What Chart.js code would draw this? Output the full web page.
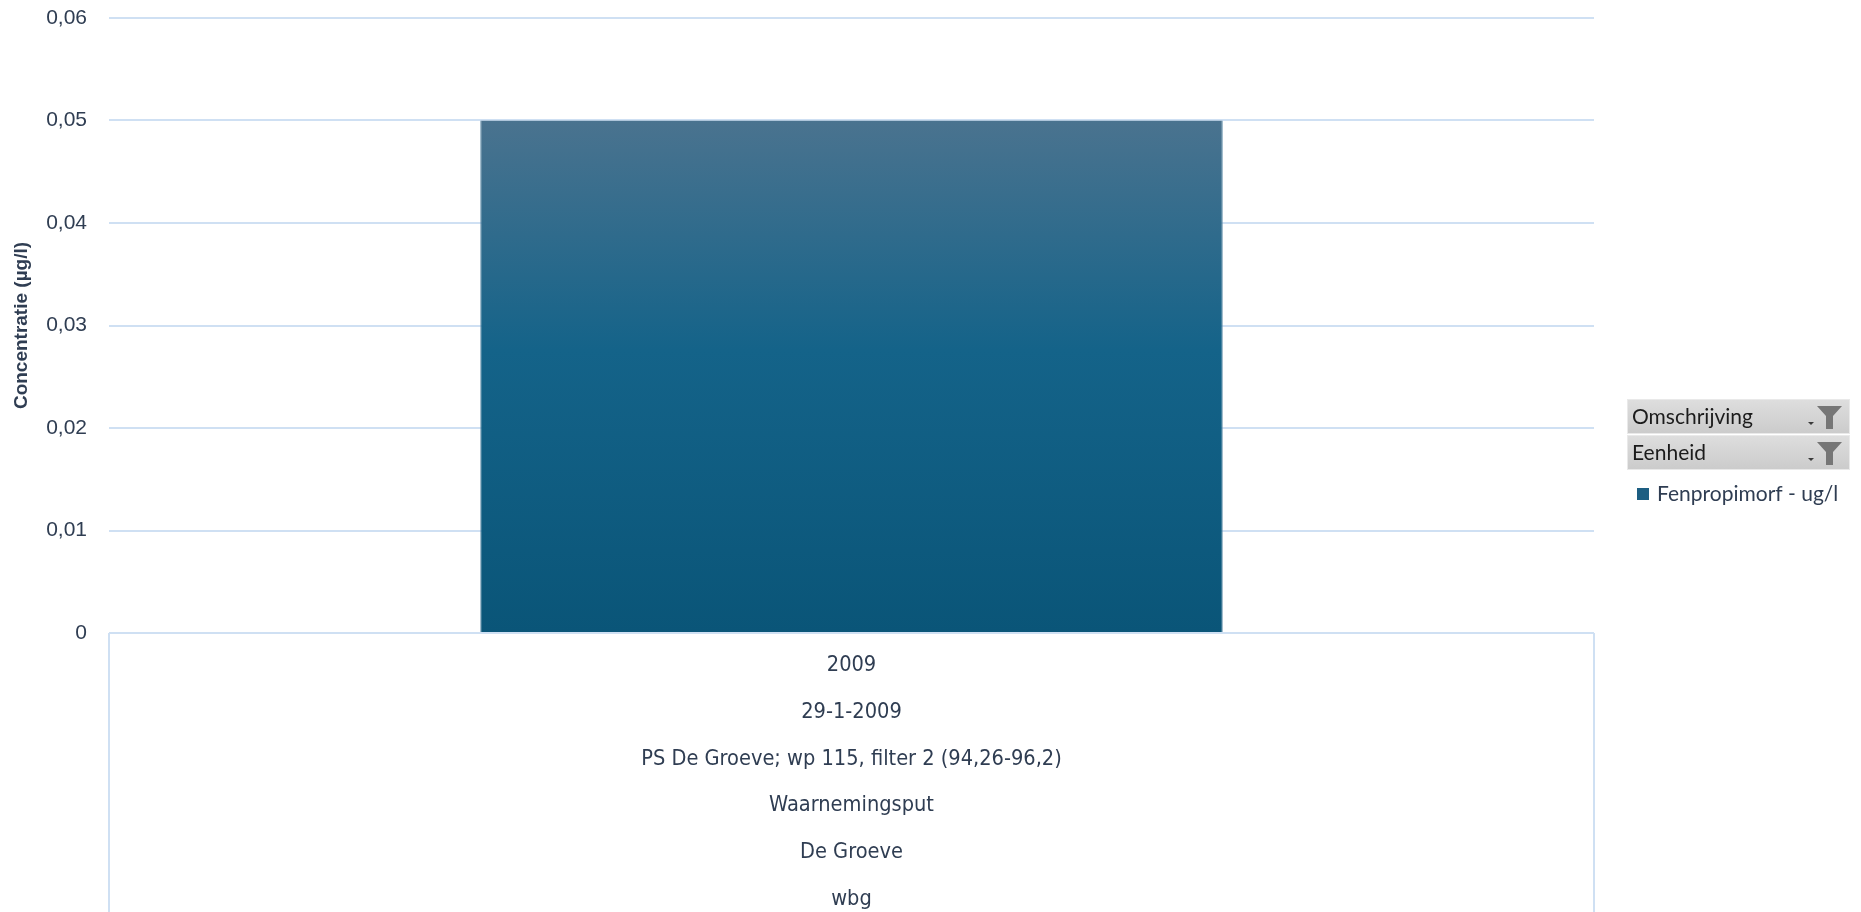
<!DOCTYPE html>
<html>
<head>
<meta charset="utf-8">
<script src="https://cdn.jsdelivr.net/npm/chart.js@4/dist/chart.umd.min.js"></script>
<style>
  html, body { margin: 0; padding: 0; background: #ffffff; }
  #wrap { position: relative; width: 1861px; height: 912px; }
</style>
</head>
<body>
<div id="wrap"><canvas id="c" width="1861" height="912"></canvas></div>
<script>
// ---- data ----
const categories = [
  ['2009', '29-1-2009', 'PS De Groeve; wp 115, filter 2 (94,26-96,2)', 'Waarnemingsput', 'De Groeve', 'wbg']
];
const seriesName = 'Fenpropimorf - ug/l';
const seriesValues = [0.05];
const yTickLabels = ['0', '0,01', '0,02', '0,03', '0,04', '0,05', '0,06'];
const yTitle = 'Concentratie (µg/l)';
const filterLabels = ['Omschrijving', 'Eenheid'];

const textColor = '#2f3d52';
const gridColor = '#cfe0f3';

function barGradient(ctx) {
  const chart = ctx.chart;
  const area = chart.chartArea;
  if (!area) return '#125f85';
  const ys = chart.scales.y;
  const top = ys.getPixelForValue(seriesValues[0]);
  const bottom = ys.getPixelForValue(0);
  const g = chart.ctx.createLinearGradient(0, top, 0, bottom);
  g.addColorStop(0, '#4a738f');
  g.addColorStop(0.45, '#146389');
  g.addColorStop(1, '#0a5578');
  return g;
}

const sidePanel = {
  id: 'sidePanel',
  afterDraw(chart) {
    const ctx = chart.ctx;
    ctx.save();
    // filter buttons
    const bx = 1627, bw = 223, bh = 35;
    const tops = [399, 435];
    filterLabels.forEach((lab, i) => {
      const y = tops[i];
      const g = ctx.createLinearGradient(0, y, 0, y + bh);
      g.addColorStop(0, '#dedede');
      g.addColorStop(1, '#cbcbcb');
      ctx.fillStyle = g;
      ctx.fillRect(bx, y, bw, bh);
      ctx.strokeStyle = '#e9e9e9';
      ctx.lineWidth = 1;
      ctx.strokeRect(bx + 0.5, y + 0.5, bw - 1, bh - 1);
      ctx.fillStyle = '#1b1b1b';
      ctx.font = '21px Lato, "Open Sans", sans-serif';
      ctx.textAlign = 'left';
      ctx.textBaseline = 'middle';
      ctx.fillText(lab, bx + 5, y + bh / 2 + 1);
      // small dropdown arrow
      ctx.fillStyle = '#3a3a3a';
      ctx.beginPath();
      ctx.moveTo(1808, y + 23);
      ctx.lineTo(1814, y + 23);
      ctx.lineTo(1811, y + 26);
      ctx.closePath();
      ctx.fill();
      // funnel
      ctx.fillStyle = '#767676';
      ctx.beginPath();
      ctx.moveTo(1817, y + 7);
      ctx.lineTo(1842, y + 7);
      ctx.lineTo(1833, y + 17);
      ctx.lineTo(1833, y + 30);
      ctx.lineTo(1826, y + 30);
      ctx.lineTo(1826, y + 17);
      ctx.closePath();
      ctx.fill();
    });
    // legend item
    chart.data.datasets.forEach((ds, i) => {
      const ly = 494 + i * 28;
      ctx.fillStyle = '#1d5e82';
      ctx.fillRect(1637, ly - 6, 12, 12);
      ctx.fillStyle = textColor;
      ctx.font = '21px Lato, "Open Sans", sans-serif';
      ctx.textAlign = 'left';
      ctx.textBaseline = 'middle';
      ctx.fillText(ds.label, 1657, ly);
    });
    ctx.restore();
  }
};

new Chart(document.getElementById('c'), {
  type: 'bar',
  data: {
    labels: categories,
    datasets: [{
      label: seriesName,
      data: seriesValues,
      backgroundColor: barGradient,
      borderColor: '#5b89a6',
      borderWidth: { left: 1, right: 1, top: 0, bottom: 0 },
      barPercentage: 1.0,
      categoryPercentage: 0.5
    }]
  },
  options: {
    responsive: false,
    animation: false,
    events: [],
    layout: { padding: { left: 0, right: 267, top: 18, bottom: 0 } },
    plugins: {
      legend: { display: false },
      tooltip: { enabled: false },
      title: { display: false }
    },
    scales: {
      x: {
        offset: true,
        border: { display: false },
        grid: {
          offset: true,
          drawOnChartArea: false,
          drawTicks: true,
          tickLength: 290,
          color: gridColor,
          lineWidth: 2
        },
        ticks: {
          autoSkip: false,
          maxRotation: 0,
          minRotation: 0,
          padding: -281,
          color: textColor,
          font: { family: '"Liberation Sans Narrow", "DejaVu Sans Condensed", sans-serif', size: 21.6, lineHeight: 2.167 }
        },
        afterFit(scale) { scale.height = 279; scale.paddingTop = 0; scale.paddingBottom = 0; }
      },
      y: {
        min: 0,
        max: 0.06,
        border: { display: false },
        grid: {
          drawTicks: false,
          color: gridColor,
          lineWidth: 2
        },
        ticks: {
          stepSize: 0.01,
          padding: 22,
          color: textColor,
          font: { family: '"Liberation Sans", Arial, sans-serif', size: 21 },
          callback: (v, i) => yTickLabels[i]
        },
        title: {
          display: true,
          text: yTitle,
          color: textColor,
          padding: { top: 10, bottom: 0 },
          font: { family: '"Liberation Sans", Arial, sans-serif', size: 19, weight: 'bold' }
        },
        afterFit(scale) { scale.width = 109; scale.paddingTop = 0; scale.paddingBottom = 0; }
      }
    }
  },
  plugins: [sidePanel]
});
</script>
</body>
</html>
